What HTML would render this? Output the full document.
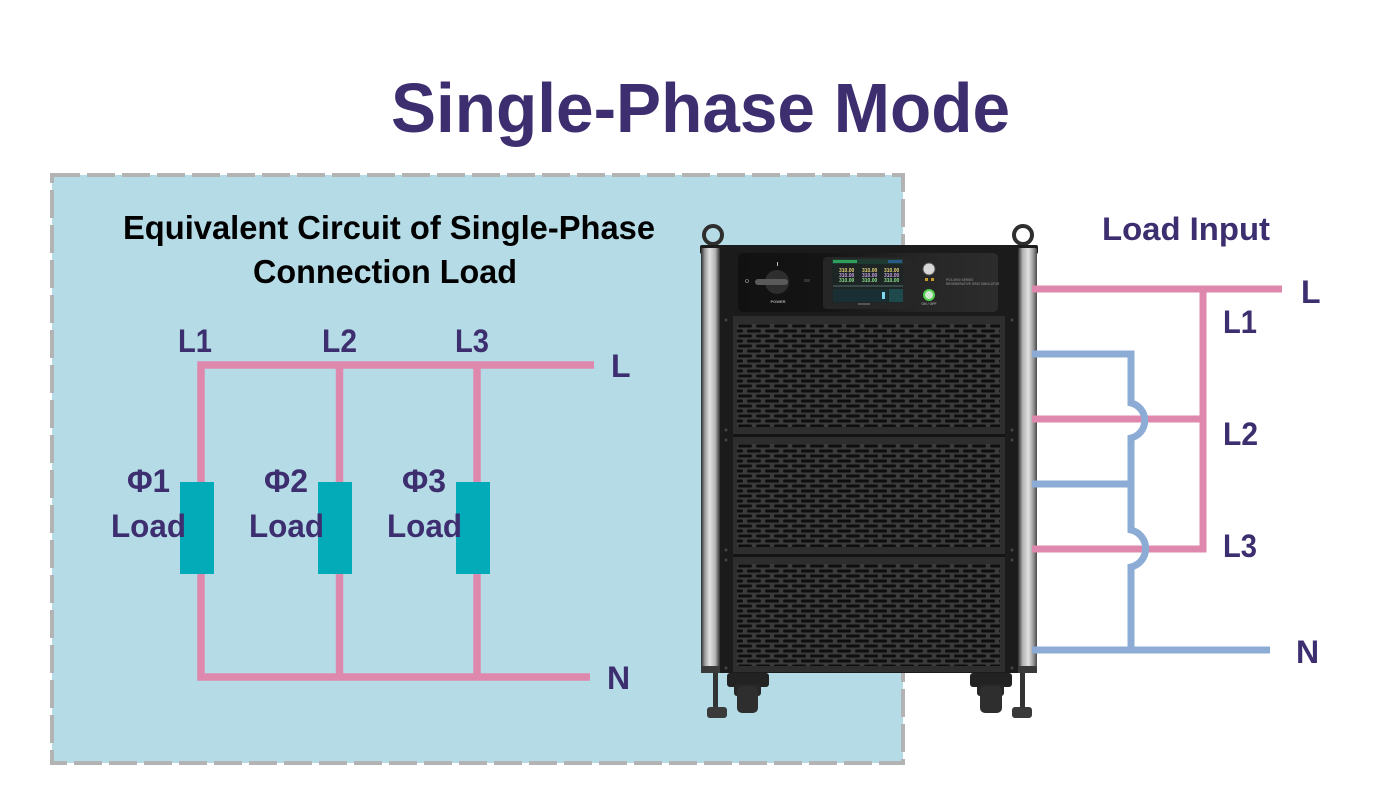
<!DOCTYPE html>
<html>
<head>
<meta charset="utf-8">
<style>
html,body{margin:0;padding:0;background:#fff;}
body{width:1400px;height:800px;overflow:hidden;}
svg{display:block;}
text{font-family:"Liberation Sans",sans-serif;font-weight:bold;}
</style>
</head>
<body>
<svg width="1400" height="800" viewBox="0 0 1400 800" xmlns="http://www.w3.org/2000/svg">
<defs>
  <linearGradient id="pl" x1="0" y1="0" x2="1" y2="0">
    <stop offset="0" stop-color="#2a2a2a"/>
    <stop offset="0.2" stop-color="#9a9a9a"/>
    <stop offset="0.45" stop-color="#e2e2e2"/>
    <stop offset="0.75" stop-color="#b4b4b4"/>
    <stop offset="1" stop-color="#2e2e2e"/>
  </linearGradient>
  <linearGradient id="pr" x1="0" y1="0" x2="1" y2="0">
    <stop offset="0" stop-color="#2e2e2e"/>
    <stop offset="0.25" stop-color="#b4b4b4"/>
    <stop offset="0.55" stop-color="#e2e2e2"/>
    <stop offset="0.8" stop-color="#9a9a9a"/>
    <stop offset="1" stop-color="#4a4a4a"/>
  </linearGradient>
  <linearGradient id="panel" x1="0" y1="0" x2="1" y2="0">
    <stop offset="0" stop-color="#111"/>
    <stop offset="0.33" stop-color="#141414"/>
    <stop offset="0.7" stop-color="#262626"/>
    <stop offset="1" stop-color="#2c2c2c"/>
  </linearGradient>
  <pattern id="g" width="18" height="10" patternUnits="userSpaceOnUse" x="737" y="324">
    <rect width="18" height="10" fill="#3a3a3a"/>
    <rect x="1" y="0.5" width="14" height="3" rx="1.5" fill="#0e0e0e"/>
    <rect x="10" y="5.5" width="14" height="3" rx="1.5" fill="#0e0e0e"/>
    <rect x="-8" y="5.5" width="14" height="3" rx="1.5" fill="#0e0e0e"/>
  </pattern>
</defs>

<!-- Title -->
<text x="391" y="132" font-size="70" fill="#3d2e70" textLength="619" lengthAdjust="spacingAndGlyphs">Single-Phase Mode</text>

<!-- Dashed box -->
<rect x="52" y="175" width="851" height="588" fill="#b5dce6" stroke="#b3b3b3" stroke-width="4" stroke-dasharray="28 7"/>

<text x="123" y="239" font-size="33" fill="#000" textLength="532" lengthAdjust="spacingAndGlyphs">Equivalent Circuit of Single-Phase</text>
<text x="253" y="283" font-size="33" fill="#000" textLength="264" lengthAdjust="spacingAndGlyphs">Connection Load</text>

<!-- Left circuit -->
<g fill="none" stroke="#de88ad" stroke-width="7.5" stroke-linejoin="miter">
  <path d="M594 365 H201 V677 H590"/>
  <path d="M339.5 365 V677"/>
  <path d="M477 365 V677"/>
</g>
<rect x="180" y="482" width="34" height="92" fill="#03aab8"/>
<rect x="318" y="482" width="34" height="92" fill="#03aab8"/>
<rect x="456" y="482" width="34" height="92" fill="#03aab8"/>

<g fill="#3d2e70" font-size="32">
  <text x="178" y="352" textLength="34" lengthAdjust="spacingAndGlyphs">L1</text>
  <text x="322" y="352" textLength="35" lengthAdjust="spacingAndGlyphs">L2</text>
  <text x="455" y="352" textLength="34" lengthAdjust="spacingAndGlyphs">L3</text>
  <text x="611" y="377">L</text>
  <text x="607" y="689">N</text>
  <text x="127" y="492" textLength="43" lengthAdjust="spacingAndGlyphs">Φ1</text>
  <text x="264" y="492" textLength="44" lengthAdjust="spacingAndGlyphs">Φ2</text>
  <text x="402" y="492" textLength="44" lengthAdjust="spacingAndGlyphs">Φ3</text>
  <text x="111" y="537" textLength="75" lengthAdjust="spacingAndGlyphs">Load</text>
  <text x="249" y="537" textLength="75" lengthAdjust="spacingAndGlyphs">Load</text>
  <text x="387" y="537" textLength="75" lengthAdjust="spacingAndGlyphs">Load</text>
</g>

<!-- Device -->
<g>
  <circle cx="713" cy="235" r="9" fill="none" stroke="#2e2e2e" stroke-width="4"/>
  <circle cx="1023" cy="235" r="9" fill="none" stroke="#2e2e2e" stroke-width="4"/>
  <rect x="709" y="242" width="8" height="6" fill="#2e2e2e"/>
  <rect x="1019" y="242" width="8" height="6" fill="#2e2e2e"/>
  <rect x="700" y="245" width="338" height="9" rx="2" fill="#1c1c1c"/>
  <rect x="718" y="250" width="302" height="423" fill="#1b1b1b"/>
  <rect x="701" y="248" width="19" height="425" rx="2" fill="url(#pl)"/>
  <rect x="1018" y="248" width="19" height="425" rx="2" fill="url(#pr)"/>
  <rect x="701" y="666" width="19" height="7" fill="#3a3a3a"/>
  <rect x="1018" y="666" width="19" height="7" fill="#3a3a3a"/>

  <rect x="738" y="253" width="260" height="59" rx="5" fill="url(#panel)"/>
  <circle cx="777" cy="282" r="12" fill="#2e2e2e"/>
  <rect x="755" y="279" width="33" height="6" rx="3" fill="#5a5a5a"/>
  <rect x="777" y="262" width="1" height="4" fill="#bbb"/>
  <circle cx="747" cy="281" r="1.5" fill="none" stroke="#aaa" stroke-width="0.6"/>
  <text x="778" y="303" font-size="4" fill="#aaa" text-anchor="middle">POWER</text>
  <rect x="804" y="279" width="6" height="3" fill="#333"/>
  <rect x="823" y="257" width="90" height="52" rx="4" fill="#262626"/>
  <rect x="832" y="259" width="71" height="44" fill="#1d2525"/>
  <rect x="832" y="259" width="71" height="5" fill="#1f3a30"/>
  <rect x="833" y="260" width="24" height="3" fill="#2ea05a"/>
  <rect x="888" y="260" width="14" height="3" fill="#2a5a8a"/>
  <g font-size="5" font-weight="bold">
    <text x="839" y="272" fill="#e6d47a">310.00</text>
    <text x="862" y="272" fill="#e6d47a">310.00</text>
    <text x="884" y="272" fill="#e6d47a">310.00</text>
    <text x="839" y="277" fill="#c9a2e6">310.00</text>
    <text x="862" y="277" fill="#c9a2e6">310.00</text>
    <text x="884" y="277" fill="#c9a2e6">310.00</text>
    <text x="839" y="282" fill="#8ee08e">310.00</text>
    <text x="862" y="282" fill="#8ee08e">310.00</text>
    <text x="884" y="282" fill="#8ee08e">310.00</text>
  </g>
  <rect x="833" y="285" width="70" height="2" fill="#3a4a4a"/>
  <rect x="833" y="289" width="55" height="13" fill="#1a2f33"/>
  <rect x="889" y="289" width="14" height="13" fill="#1e4a4e"/>
  <rect x="882" y="292" width="3" height="7" fill="#7fd8f0"/>
  <rect x="858" y="303" width="12" height="2" fill="#555"/>
  <circle cx="929" cy="269" r="6" fill="#d8d8d8" stroke="#555" stroke-width="1"/>
  <rect x="925" y="278" width="3" height="3" fill="#c89a2a"/>
  <rect x="931" y="278" width="3" height="3" fill="#c89a2a"/>
  <circle cx="929" cy="295" r="5" fill="#cfe8cf" stroke="#4fd14f" stroke-width="2"/>
  <text x="929" y="305" font-size="3.5" fill="#999" text-anchor="middle">ON / OFF</text>
  <text x="946" y="281" font-size="3.2" fill="#777">PCS-9000 SERIES</text>
  <text x="946" y="285" font-size="3.2" fill="#777">REGENERATIVE GRID SIMULATOR</text>

  <rect x="733" y="316" width="272" height="118" fill="#2e2e2e"/>
  <rect x="733" y="437" width="272" height="117" fill="#2e2e2e"/>
  <rect x="733" y="557" width="272" height="115" fill="#2e2e2e"/>
  <rect x="737" y="324" width="263" height="103" fill="url(#g)"/>
  <rect x="737" y="444" width="263" height="103" fill="url(#g)"/>
  <rect x="737" y="564" width="263" height="102" fill="url(#g)"/>
  <rect x="733" y="434" width="272" height="3" fill="#141414"/>
  <rect x="733" y="554" width="272" height="3" fill="#141414"/>
  <circle cx="726" cy="320" r="1.5" fill="#444"/>
  <circle cx="726" cy="430" r="1.5" fill="#444"/>
  <circle cx="726" cy="440" r="1.5" fill="#444"/>
  <circle cx="726" cy="550" r="1.5" fill="#444"/>
  <circle cx="726" cy="560" r="1.5" fill="#444"/>
  <circle cx="726" cy="668" r="1.5" fill="#444"/>
  <circle cx="1012" cy="320" r="1.5" fill="#444"/>
  <circle cx="1012" cy="430" r="1.5" fill="#444"/>
  <circle cx="1012" cy="440" r="1.5" fill="#444"/>
  <circle cx="1012" cy="550" r="1.5" fill="#444"/>
  <circle cx="1012" cy="560" r="1.5" fill="#444"/>
  <circle cx="1012" cy="668" r="1.5" fill="#444"/>

  <rect x="713" y="673" width="5" height="37" fill="#333"/>
  <rect x="707" y="707" width="20" height="11" rx="3" fill="#3a3a3a"/>
  <rect x="1020" y="673" width="5" height="37" fill="#333"/>
  <rect x="1012" y="707" width="20" height="11" rx="3" fill="#3a3a3a"/>
  <rect x="727" y="673" width="42" height="14" rx="3" fill="#222"/>
  <rect x="734" y="684" width="27" height="12" rx="3" fill="#262626"/>
  <rect x="737" y="686" width="21" height="27" rx="5" fill="#2e2e2e"/>
  <rect x="970" y="673" width="42" height="14" rx="3" fill="#222"/>
  <rect x="977" y="684" width="27" height="12" rx="3" fill="#262626"/>
  <rect x="980" y="686" width="22" height="27" rx="5" fill="#2e2e2e"/>
</g>

<!-- Right wiring -->
<g fill="none" stroke-width="7" stroke-linejoin="miter">
  <path d="M1032 289 H1282" stroke="#de88ad"/>
  <path d="M1032 419 H1203" stroke="#de88ad"/>
  <path d="M1032 549 H1203 V289" stroke="#de88ad"/>
  <path d="M1032 354 H1131 V403 A18 18 0 0 1 1131 438 V530 A19 19 0 0 1 1131 567 V650" stroke="#8cacd6"/>
  <path d="M1032 484 H1131" stroke="#8cacd6"/>
  <path d="M1032 650 H1270" stroke="#8cacd6"/>
</g>

<g fill="#3d2e70" font-size="32">
  <text x="1102" y="240" textLength="168" lengthAdjust="spacingAndGlyphs">Load Input</text>
  <text x="1301" y="303">L</text>
  <text x="1223" y="333" textLength="34" lengthAdjust="spacingAndGlyphs">L1</text>
  <text x="1223" y="445" textLength="35" lengthAdjust="spacingAndGlyphs">L2</text>
  <text x="1223" y="557" textLength="34" lengthAdjust="spacingAndGlyphs">L3</text>
  <text x="1296" y="663">N</text>
</g>
</svg>
</body>
</html>
